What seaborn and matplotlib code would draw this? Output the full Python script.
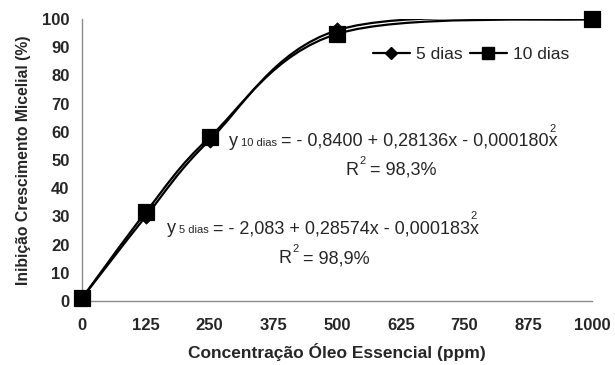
import matplotlib
matplotlib.use('Agg')
import matplotlib.pyplot as plt
import seaborn as sns
import numpy as np
import pandas as pd
from matplotlib.path import Path
from matplotlib.patches import PathPatch
from matplotlib.lines import Line2D

# data
conc = [0, 125, 250, 500, 1000]
inib_5dias = [1.0, 30.0, 57.0, 96.0, 100.0]
inib_10dias = [1.0, 31.5, 58.0, 94.7, 100.0]
series = ['5 dias', '10 dias']
x_ticks = [0, 125, 250, 375, 500, 625, 750, 875, 1000]
y_ticks = list(range(0, 101, 10))

eq_10 = '= - 0,8400 + 0,28136x - 0,000180x'
eq_5 = '= - 2,083 + 0,28574x - 0,000183x'
r2_10 = '= 98,3%'
r2_5 = '= 98,9%'

W, H = 615, 365
GRAY = '#8c8c8c'

sns.set_style('white')
plt.rcParams['font.family'] = ['Liberation Sans', 'DejaVu Sans']


def smooth_path(xs, ys):
    """Excel-like smoothed line (Catmull-Rom segments as cubic Bezier)."""
    pts = np.column_stack([xs, ys]).astype(float)
    ext = np.vstack([pts[0], pts, pts[-1]])
    verts = [pts[0]]
    codes = [Path.MOVETO]
    for i in range(1, len(ext) - 2):
        p0, p1, p2, p3 = ext[i - 1], ext[i], ext[i + 1], ext[i + 2]
        verts += [p1 + (p2 - p0) / 6, p2 - (p3 - p1) / 6, p2]
        codes += [Path.CURVE4] * 3
    return Path(verts, codes)


df = pd.DataFrame({
    'conc': conc * 2,
    'inib': inib_5dias + inib_10dias,
    'serie': [series[0]] * len(conc) + [series[1]] * len(conc),
})

fig = plt.figure(figsize=(W / 100, H / 100), dpi=100)
ax = fig.add_axes([82 / W, 1 - 301 / H, (592 - 82) / W, (301 - 19) / H])

# smoothed lines
for s, ys in zip(series, [inib_5dias, inib_10dias]):
    ax.add_patch(PathPatch(smooth_path(conc, ys), facecolor='none',
                           edgecolor='black', lw=1.6, zorder=2))

# markers
sns.scatterplot(data=df[df['serie'] == '5 dias'], x='conc', y='inib', ax=ax,
                marker='D', s=60, color='black', edgecolor='black',
                clip_on=False, zorder=3, legend=False)
sns.scatterplot(data=df[df['serie'] == '10 dias'], x='conc', y='inib', ax=ax,
                marker='s', s=120, color='black', edgecolor='black',
                clip_on=False, zorder=4, legend=False)

ax.set_xlim(0, 1000)
ax.set_ylim(0, 100)
ax.set_xticks(x_ticks)
ax.set_yticks(y_ticks)
ax.set_xticklabels([str(t) for t in x_ticks], fontsize=12, fontweight='bold')
ax.set_yticklabels([str(t) for t in y_ticks], fontsize=12, fontweight='bold')
ax.tick_params(axis='x', direction='in', length=4, width=1, color=GRAY, pad=12)
ax.tick_params(axis='y', direction='out', length=4, width=1, color=GRAY, pad=5)

for side in ['top', 'right']:
    ax.spines[side].set_visible(False)
for side in ['left', 'bottom']:
    ax.spines[side].set_color(GRAY)
    ax.spines[side].set_linewidth(1)

ax.set_xlabel('Concentração Óleo Essencial (ppm)', fontsize=12.5, fontweight='bold')
ax.set_ylabel('Inibição Crescimento Micelial (%)', fontsize=11.3, fontweight='bold')
ax.xaxis.set_label_coords(0.5, -0.148)
ax.yaxis.set_label_coords(-0.10, 0.5)

handles = [
    Line2D([], [], color='black', lw=1.6, marker='D', markersize=6),
    Line2D([], [], color='black', lw=1.6, marker='s', markersize=8),
]
fig.legend(handles, series, loc='center', bbox_to_anchor=(471 / W, 1 - 54 / H),
           ncol=2, frameon=False, fontsize=12.5, handlelength=2.1,
           handletextpad=0.35, columnspacing=0.45, borderpad=0, borderaxespad=0)

# equations (Excel style text boxes)
fig.canvas.draw()
renderer = fig.canvas.get_renderer()


def put(x, y, s, size, **kw):
    return fig.text(x / W, 1 - y / H, s, fontsize=size, va='baseline', **kw)


def right_px(t):
    return t.get_window_extent(renderer).x1


def left_px(t):
    return t.get_window_extent(renderer).x0


def equation(x_eq, base, sub, eq):
    t_eq = put(x_eq, base, eq, 13, ha='left')
    t_sub = put(x_eq - 4, base, sub, 8, ha='right')
    put(left_px(t_sub) - 3, base, 'y', 13, ha='right')
    put(right_px(t_eq) - 5, base - 14, '2', 8, ha='center')


def r_squared(x_r, base, txt):
    t_r = put(x_r, base, 'R', 13, ha='left')
    put(right_px(t_r) + 1, base - 11, '2', 8, ha='left')
    put(right_px(t_r) + 12, base, txt, 13, ha='left')


equation(281, 146, '10 dias', eq_10)
r_squared(345, 175, r2_10)
equation(213, 233, '5 dias', eq_5)
r_squared(278, 263, r2_5)

fig.savefig('out.png', dpi=100)
